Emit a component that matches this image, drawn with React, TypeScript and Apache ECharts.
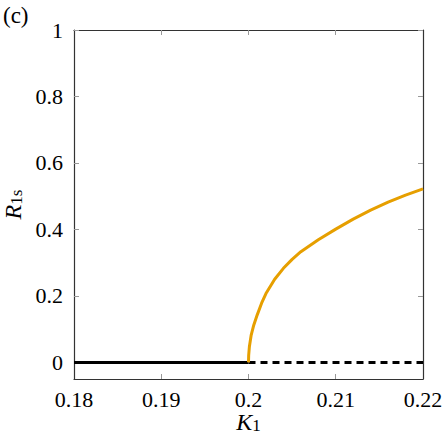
import React, { useEffect, useRef } from "react";
import * as echarts from "echarts";

const xTicks = [0.18, 0.19, 0.2, 0.21, 0.22];
const yTicks = [0, 0.2, 0.4, 0.6, 0.8, 1];
const xTickLabels = ["0.18", "0.19", "0.2", "0.21", "0.22"];
const yTickLabels = ["0", "0.2", "0.4", "0.6", "0.8", "1"];

const stableK = [0.18, 0.2];
const stableR = [0, 0];
const unstableK = [0.2, 0.22];
const unstableR = [0, 0];

const branchK = [0.2, 0.20002, 0.2001, 0.2003, 0.2006, 0.201, 0.2015, 0.202, 0.203, 0.204, 0.205, 0.206, 0.208, 0.21, 0.212, 0.214, 0.216, 0.218, 0.22];
const branchR = [0, 0.021, 0.047, 0.081, 0.112, 0.143, 0.178, 0.207, 0.25, 0.283, 0.31, 0.333, 0.369, 0.401, 0.431, 0.458, 0.482, 0.503, 0.522];

const FONT = "'Liberation Serif', 'Times New Roman', 'DejaVu Serif', serif";

export default function App() {
  const ref = useRef<HTMLDivElement>(null);
  useEffect(() => {
    if (!ref.current) return;
    const chart = echarts.init(ref.current, null, { renderer: "svg" });
    const zip = (a: number[], b: number[]) => a.map((v, i) => [v, b[i]]);
    const axisLine = { show: true, onZero: false, lineStyle: { color: "#333", width: 1.2 } };
    const tick = (vals: number[]) => ({
      show: true,
      inside: true,
      length: 5,
      lineStyle: { color: "#999", width: 1 },
      customValues: vals,
    });
    const rich = {
      i: { fontFamily: FONT, fontStyle: "italic", fontSize: 24, color: "#000", lineHeight: 24, verticalAlign: "middle" },
      s: { fontFamily: FONT, fontSize: 17, color: "#000", lineHeight: 14, verticalAlign: "bottom" },
    };
    chart.setOption({
      animation: false,
      backgroundColor: "#fff",
      grid: { left: 74, right: 22, top: 30, bottom: 57, containLabel: false, outerBoundsMode: "none" },
      title: {
        text: "(c)",
        left: -2,
        top: -1,
        textStyle: { fontFamily: FONT, fontSize: 23, fontWeight: "normal", color: "#000" },
      },
      xAxis: [
        {
          type: "value",
          min: 0.18,
          max: 0.22,
          position: "bottom",
          axisLine,
          splitLine: { show: false },
          axisTick: tick(xTicks.slice(1, -1)),
          axisLabel: {
            customValues: xTicks,
            margin: 9,
            fontFamily: FONT,
            fontSize: 22,
            color: "#000",
            formatter: (v: number) => {
              const i = xTicks.findIndex((t) => Math.abs(t - v) < 1e-9);
              return i >= 0 ? xTickLabels[i] : "";
            },
          },
          name: "{i|K}{s|1}",
          nameLocation: "middle",
          nameGap: 31,
          nameMoveOverlap: false,
          nameTextStyle: { rich },
        },
        {
          type: "value",
          min: 0.18,
          max: 0.22,
          position: "top",
          axisLine,
          splitLine: { show: false },
          axisTick: tick(xTicks.slice(1, -1)),
          axisLabel: { show: false },
        },
      ],
      yAxis: [
        {
          type: "value",
          min: -0.05,
          max: 1,
          position: "left",
          axisLine,
          splitLine: { show: false },
          axisTick: tick(yTicks),
          axisLabel: {
            customValues: yTicks,
            margin: 11,
            fontFamily: FONT,
            fontSize: 22,
            color: "#000",
            formatter: (v: number) => {
              const i = yTicks.findIndex((t) => Math.abs(t - v) < 1e-9);
              return i >= 0 ? yTickLabels[i] : "";
            },
          },
          name: "{i|R}{s|1s}",
          nameLocation: "middle",
          nameGap: 49,
          nameRotate: 90,
          nameMoveOverlap: false,
          nameTextStyle: { rich },
        },
        {
          type: "value",
          min: -0.05,
          max: 1,
          position: "right",
          axisLine,
          splitLine: { show: false },
          axisTick: tick(yTicks),
          axisLabel: { show: false },
        },
      ],
      series: [
        {
          type: "line",
          data: zip(stableK, stableR),
          showSymbol: false,
          lineStyle: { color: "#000", width: 3 },
          z: 2,
        },
        {
          type: "line",
          data: zip(unstableK, unstableR),
          showSymbol: false,
          lineStyle: { color: "#000", width: 3, type: [7, 5] },
          z: 2,
        },
        {
          type: "line",
          data: zip(branchK, branchR),
          showSymbol: false,
          lineStyle: { color: "#E69F00", width: 3 },
          z: 3,
        },
      ],
    });
    return () => chart.dispose();
  }, []);
  return <div ref={ref} style={{ position: "fixed", left: 0, top: 0, width: 445, height: 436 }} />;
}
